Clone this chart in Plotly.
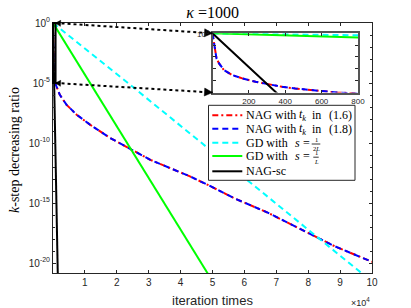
import plotly.graph_objects as go

# ---------------- data ----------------
# NAG curves: iteration k and log10 of the k-step decreasing ratio
nag_k = [0, 3, 13, 22, 36, 63, 109, 164, 237, 309, 383, 455, 510, 683,
         2100, 4200, 7400, 11600, 17900, 24200, 30500, 36800, 43100,
         49400, 56800, 67300, 77800, 88300, 100000]
nag16_exp = [0, -0.28, -1.55, -2.12, -2.54, -3.11, -3.53, -3.81, -4.09,
             -4.32, -4.52, -4.66, -4.75, -5.0, -5.97, -6.8, -7.64, -8.47,
             -9.58, -10.48, -11.4, -12.1, -12.8, -13.6, -14.6, -15.8,
             -17.2, -18.6, -19.9]
nag18_exp = [0, -0.28, -1.55, -2.12, -2.54, -3.11, -3.53, -3.81, -4.09,
             -4.32, -4.52, -4.66, -4.75, -5.0, -5.97, -6.8, -7.64, -8.47,
             -9.58, -10.48, -11.4, -12.1, -12.8, -13.6, -14.6, -15.8,
             -17.2, -18.6, -19.9]
gd_half_k = [0, 23500, 97000]
gd_half_exp = [0, -5.0, -20.9]
gd_one_k = [0, 11600, 48800]
gd_one_exp = [0, -4.99, -21.0]
nagsc_k = [0, 350, 1500]
nagsc_exp = [0, -5.0, -21.0]

names = ["NAG with t_k in (1.6)", "NAG with t_k in (1.8)",
         "GD with s = 1/(2L)", "GD with s = 1/L", "NAG-sc"]

x_tickvals = [10000 * i for i in range(1, 11)]
x_ticktext = [str(i) for i in range(1, 11)]
y_tickexp = [-20, -15, -10, -5, 0]
inset_xticks = [200, 400, 600, 800]

# ---------------- layout geometry ----------------
W, H = 411, 308
ML, MR, MT, MB = 53, 39, 23, 35
PW, PH = W - ML - MR, H - MT - MB
xr_main = [0, 100000]
yr_main = [-20.83, 0]
xr_inset = [0, 800]
yr_inset = [-5, 0]
inset_dom_x = [(212.5 - ML) / PW, (358 - ML) / PW]
inset_dom_y = [(H - MB - 92.5) / PH, (H - MB - 33.3) / PH]

SERIF = "Liberation Serif"
SANS = "Liberation Sans"
AX = "#262626"


def ratio(exps):
    return [10 ** e for e in exps]


def P(px, py):
    """pixel position in the figure -> paper coordinates"""
    return (px - ML) / PW, (H - MB - py) / PH


colors = ["#FF0000", "#0000FF", "#00FFFF", "#00FF00", "#000000"]
dashes = ["6px,3px,2px,3px", "6px,4px", "6px,4px", "solid", "solid"]
series = [(nag_k, nag16_exp), (nag_k, nag18_exp), (gd_half_k, gd_half_exp),
          (gd_one_k, gd_one_exp), (nagsc_k, nagsc_exp)]

fig = go.Figure()
for (kx, ey), col, dash, nm in zip(series, colors, dashes, names):
    fig.add_trace(go.Scatter(x=kx, y=ratio(ey), mode="lines", name=nm,
                             showlegend=False,
                             line=dict(color=col, dash=dash, width=2),
                             xaxis="x", yaxis="y"))
for (kx, ey), col, dash, nm in zip(series, colors, dashes, names):
    fig.add_trace(go.Scatter(x=kx, y=ratio(ey), mode="lines", name=nm,
                             showlegend=False,
                             line=dict(color=col, dash=dash, width=2),
                             xaxis="x2", yaxis="y2"))

fig.update_layout(
    width=W, height=H,
    margin=dict(l=ML, r=MR, t=MT, b=MB),
    paper_bgcolor="white", plot_bgcolor="white",
    showlegend=False,
    title=dict(text="<i>κ</i> =1000", x=212.6 / W, xanchor="center",
               y=1 - 12 / H, yanchor="middle",
               font=dict(family=SERIF, size=16, color="black")),
    xaxis=dict(range=xr_main, tickvals=x_tickvals, ticktext=x_ticktext,
               showline=True, mirror="ticks", linecolor=AX, linewidth=1,
               ticks="inside", ticklen=3, tickcolor=AX, showgrid=False,
               zeroline=False, tickfont=dict(family=SANS, size=10, color=AX)),
    yaxis=dict(type="log", range=yr_main,
               tickvals=[10 ** e for e in y_tickexp],
               ticktext=["10<sup>%d</sup>" % e for e in y_tickexp],
               showline=True, mirror="ticks", linecolor=AX, linewidth=1,
               ticks="inside", ticklen=3, tickcolor=AX, showgrid=False,
               zeroline=False, tickfont=dict(family=SANS, size=10, color=AX),
               minor=dict(tickvals=[10 ** (-i) for i in range(0, 21)],
                          ticks="inside", ticklen=2, tickcolor=AX)),
    xaxis2=dict(domain=inset_dom_x, anchor="y2", range=xr_inset,
                tickvals=inset_xticks, ticktext=[str(v) for v in inset_xticks],
                showline=True, mirror="ticks", linecolor="#555555", linewidth=2,
                ticks="inside", ticklen=3, tickcolor=AX, showgrid=False,
                zeroline=False, tickfont=dict(family=SANS, size=8, color=AX)),
    yaxis2=dict(domain=inset_dom_y, anchor="x2", type="log", range=yr_inset,
                tickvals=[10 ** e for e in range(-5, 1)],
                showticklabels=False,
                showline=True, mirror="ticks", linecolor="#555555", linewidth=2,
                ticks="inside", ticklen=3, tickcolor=AX, showgrid=False,
                zeroline=False),
)


def px_x(v):
    return (v - xr_main[0]) / (xr_main[1] - xr_main[0])


def px_y(e):
    return (e - yr_main[0]) / (yr_main[1] - yr_main[0])


# inset 10^0 tick label
il_x, il_y = P(210.5, 34.0)
fig.add_annotation(x=il_x, y=il_y, xref="paper", yref="paper",
                   text="10<sup>0</sup>", showarrow=False,
                   font=dict(family=SANS, size=8, color=AX),
                   xanchor="right", yanchor="middle")

# zoom rectangle on the main axes
zx0, zx1 = px_x(xr_inset[0]), px_x(xr_inset[1])
zy0, zy1 = px_y(yr_inset[0]), px_y(yr_inset[1])
fig.add_shape(type="rect", xref="paper", yref="paper", x0=zx0, x1=zx1,
              y0=zy0, y1=zy1, line=dict(color="black", width=2))


def tri(tipx, tipy, ux, uy, length, half):
    """triangle (paper coords) with tip at (tipx, tipy), pointing along (ux, uy) in pixels"""
    tpx, tpy = ML + tipx * PW, H - MB - tipy * PH
    bx, by = tpx - ux * length, tpy - uy * length
    nx, ny = -uy, ux
    pts = [(tpx, tpy), (bx + nx * half, by + ny * half), (bx - nx * half, by - ny * half)]
    pp = [P(a, b) for a, b in pts]
    return "M %f %f L %f %f L %f %f Z" % (pp[0][0], pp[0][1], pp[1][0], pp[1][1], pp[2][0], pp[2][1])


# dotted connector lines with arrowheads
for (sy, ty) in [(zy1, inset_dom_y[1]), (zy0, inset_dom_y[0])]:
    sx, tx = zx1, inset_dom_x[0]
    fig.add_shape(type="line", xref="paper", yref="paper", x0=sx, y0=sy,
                  x1=tx, y1=ty, line=dict(color="black", width=2, dash="dot"))
    dxp = (tx - sx) * PW
    dyp = -(ty - sy) * PH
    L = (dxp ** 2 + dyp ** 2) ** 0.5
    ux, uy = dxp / L, dyp / L
    fig.add_shape(type="path", xref="paper", yref="paper",
                  path=tri(tx, ty, ux, uy, 8, 4), fillcolor="black",
                  line=dict(color="black", width=0.5))
    fig.add_shape(type="path", xref="paper", yref="paper",
                  path=tri(sx, sy, -ux, -uy, 5, 3), fillcolor="black",
                  line=dict(color="black", width=0.5))

# ---------------- hand-made legend ----------------
bx0, by0 = P(208.5, 105.3)
bx1, by1 = P(355, 180.3)
fig.add_shape(type="rect", xref="paper", yref="paper", x0=bx0, x1=bx1,
              y0=by1, y1=by0, fillcolor="white", layer="above",
              line=dict(color=AX, width=1))
row_y = [115.3, 128.7, 142.7, 156.0, 171.3]
for ry, col, dash in zip(row_y, colors, dashes):
    lx0, ly = P(212.3, ry)
    lx1, _ = P(242.3, ry)
    fig.add_shape(type="line", xref="paper", yref="paper", x0=lx0, x1=lx1,
                  y0=ly, y1=ly, layer="above",
                  line=dict(color=col, width=2, dash=dash))

LF = 12


def txt(px, py, s, size=LF, anchor="left"):
    x, y = P(px, py)
    fig.add_annotation(x=x, y=y, xref="paper", yref="paper", text=s,
                       showarrow=False, xanchor=anchor, yanchor="middle",
                       font=dict(family=SERIF, size=size, color="black"))


for ry, num in [(row_y[0], "(1.6)"), (row_y[1], "(1.8)")]:
    txt(244.3, ry, "NAG with")
    txt(297.3, ry, "<i>t</i><sub><i>k</i></sub>")
    txt(310.0, ry, "in")
    txt(326.7, ry, num)
for ry in row_y[2:4]:
    txt(244.3, ry, "GD with")
    txt(293.0, ry, "<i>s</i>")
    txt(301.2, ry, "=")
# stacked fractions
txt(316.0, 139.2, "1", size=6.5, anchor="center")
txt(316.0, 148.6, "2<i>L</i>", size=6.5, anchor="center")
fx0, fy = P(311.7, 144.0)
fx1, _ = P(320.3, 144.0)
fig.add_shape(type="line", xref="paper", yref="paper", x0=fx0, x1=fx1,
              y0=fy, y1=fy, layer="above", line=dict(color="black", width=0.8))
txt(316.0, 152.6, "1", size=6.5, anchor="center")
txt(316.0, 161.8, "<i>L</i>", size=6.5, anchor="center")
fx0, fy = P(313.3, 157.2)
fx1, _ = P(318.7, 157.2)
fig.add_shape(type="line", xref="paper", yref="paper", x0=fx0, x1=fx1,
              y0=fy, y1=fy, layer="above", line=dict(color="black", width=0.8))
txt(244.3, row_y[4], "NAG-sc")

# ---------------- axis titles ----------------
ax_x, ax_y = P(212.5, 300.5)
fig.add_annotation(x=ax_x, y=ax_y, xref="paper", yref="paper",
                   text="iteration times", showarrow=False,
                   font=dict(family=SANS, size=13, color=AX),
                   xanchor="center", yanchor="middle")
ex_x, ex_y = P(371.5, 301.5)
fig.add_annotation(x=ex_x, y=ex_y, xref="paper", yref="paper",
                   text="×10<sup>4</sup>", showarrow=False,
                   font=dict(family=SANS, size=9, color=AX),
                   xanchor="right", yanchor="middle")
yl_x, yl_y = P(14, 150)
fig.add_annotation(x=yl_x, y=yl_y, xref="paper", yref="paper",
                   text="<i>k</i>-step decreasing ratio",
                   showarrow=False, textangle=-90,
                   font=dict(family=SERIF, size=14, color="black"),
                   xanchor="center", yanchor="middle")

fig.write_html("out.html", config={"displayModeBar": False},
               post_script="document.body.style.margin='0px';")
